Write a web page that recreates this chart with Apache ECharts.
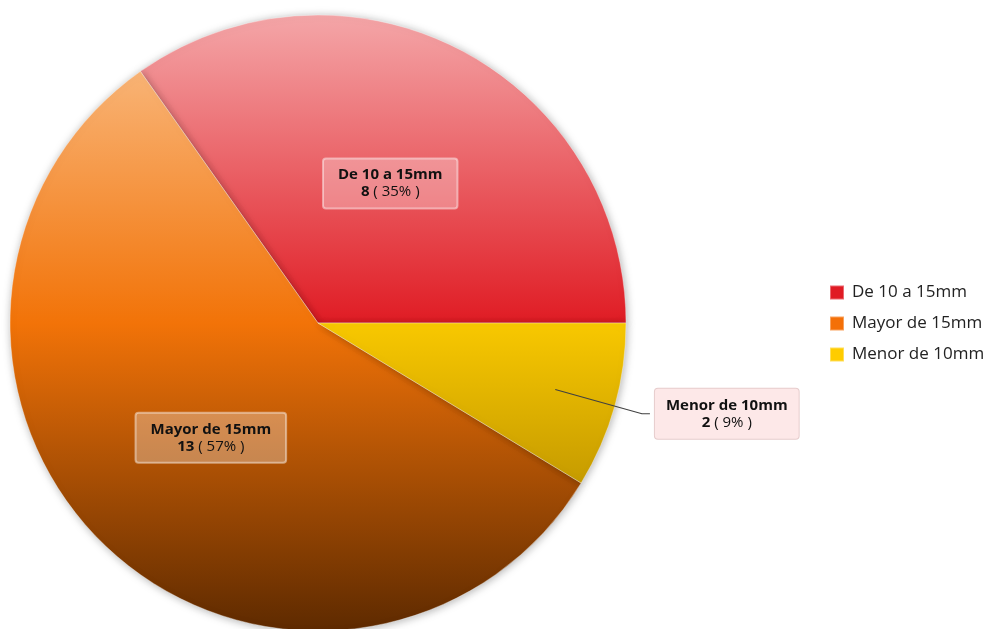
<!DOCTYPE html>
<html>
<head>
<meta charset="utf-8">
<style>
  html, body { margin: 0; padding: 0; background: #fff; }
  #chart { width: 993px; height: 629px; }
</style>
<script src="https://cdn.jsdelivr.net/npm/echarts@6/dist/echarts.min.js"></script>
</head>
<body>
<div id="chart"></div>
<script>
// Distribution of measurements by size range
const categories = ['De 10 a 15mm', 'Mayor de 15mm', 'Menor de 10mm'];
const counts = [8, 13, 2];
const percents = [35, 57, 9];

// light / base / dark tones per slice, applied as a vertical sheen across the pie
const baseColors = ['#e01b24', '#f47008', '#ffcc00'];
const tones = [
  ['#f4a6a8', '#e01c24', '#8a1010'],
  ['#fac28e', '#f27308', '#5e2a00'],
  ['#ffe070', '#f8c800', '#987200']
];

const fontFamily = '"Open Sans", "Noto Sans", sans-serif';
const cx = 318, cy = 323, R = 308;

function sheen(t) {
  return {
    type: 'linear', global: true,
    x: 0, y: cy - R, x2: 0, y2: cy + R,
    colorStops: [
      { offset: 0, color: t[0] },
      { offset: 0.5, color: t[1] },
      { offset: 1, color: t[2] }
    ]
  };
}

const labelRich = {
  name: { fontWeight: 'bold', fontSize: 15, color: '#111', lineHeight: 17, fontFamily, align: 'center' },
  num: { fontWeight: 'bold', fontSize: 15, color: '#111', lineHeight: 17, fontFamily, align: 'center' },
  pct: { fontSize: 15, color: '#111', lineHeight: 17, fontFamily, align: 'center' }
};

function fmt(p) {
  return '{name|' + p.name + '}\n{num|' + counts[p.dataIndex] + '}{pct| ( ' + percents[p.dataIndex] + '% )}';
}

const insideLabel = {
  show: true, position: 'inside', formatter: fmt, rich: labelRich,
  align: 'center',
  backgroundColor: 'rgba(255,255,255,0.3)',
  borderColor: 'rgba(255,255,255,0.45)', borderWidth: 1, borderRadius: 3,
  padding: [8, 15, 8, 15]
};

const mainData = categories.map((name, i) => ({
  name, value: counts[i],
  itemStyle: { color: sheen(tones[i]) },
  label: i === 2 ? { show: false } : insideLabel
}));

// invisible inner ring carrying the callout for the small slice
const calloutData = categories.map((name, i) => ({
  name, value: counts[i],
  itemStyle: { color: 'rgba(0,0,0,0)' },
  label: i === 2 ? {
    show: true, position: 'outside', formatter: fmt, rich: labelRich,
    backgroundColor: '#fde8e8', borderColor: '#e6cccc', borderWidth: 1, borderRadius: 3,
    padding: [8, 11, 8, 11]
  } : { show: false },
  labelLine: i === 2 ? { show: true, length: 90, length2: 8, lineStyle: { color: '#404040', width: 1.2 } } : { show: false }
}));

const chart = echarts.init(document.getElementById('chart'));
chart.setOption({
  backgroundColor: '#ffffff',
  animation: false,
  legend: {
    orient: 'vertical',
    left: 824, top: 279,
    itemWidth: 14, itemHeight: 14, itemGap: 14,
    icon: 'rect',
    textStyle: { fontSize: 17, color: '#222', fontFamily, padding: [0, 0, 0, 3] },
    data: categories.map((name, i) => ({ name, itemStyle: { color: baseColors[i] } }))
  },
  series: [
    {
      type: 'pie',
      z: 2,
      center: [cx, cy], radius: R,
      startAngle: 0, clockwise: false,
      avoidLabelOverlap: false,
      itemStyle: {
        borderColor: 'rgba(255,255,255,0.35)', borderWidth: 1,
        shadowBlur: 8, shadowColor: 'rgba(0,0,0,0.3)', shadowOffsetX: 1, shadowOffsetY: 1
      },
      emphasis: { disabled: true },
      data: mainData
    },
    {
      type: 'pie',
      z: 5,
      center: [cx, cy], radius: R * 0.8,
      startAngle: 0, clockwise: false,
      silent: true,
      avoidLabelOverlap: false,
      legendHoverLink: false,
      emphasis: { disabled: true },
      data: calloutData
    }
  ]
});
</script>
</body>
</html>
